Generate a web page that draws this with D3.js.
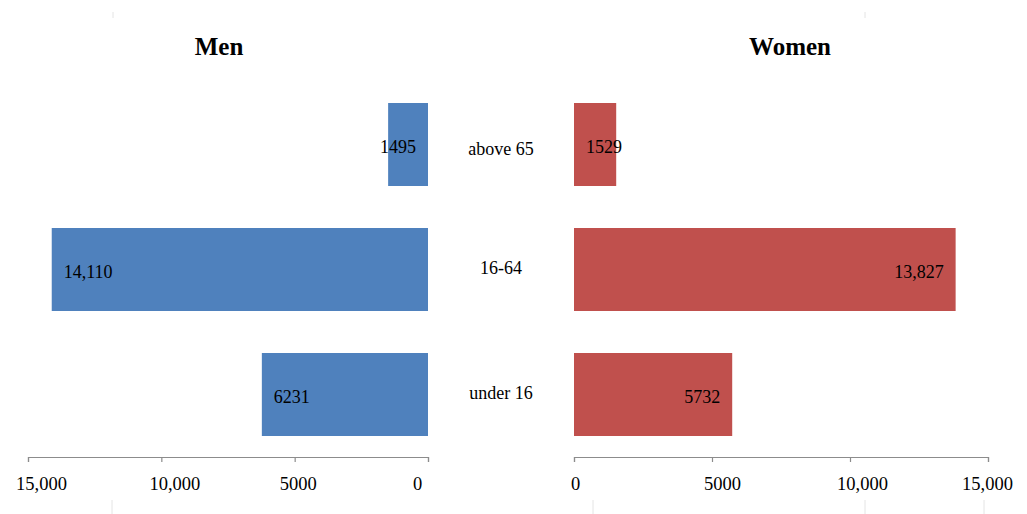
<!DOCTYPE html>
<html>
<head>
<meta charset="utf-8">
<script src="https://cdn.jsdelivr.net/npm/d3@7/dist/d3.min.js"></script>
<style>
  html, body { margin: 0; padding: 0; background: #fff; }
  svg { display: block; }
  text { font-family: "Liberation Serif", "Times New Roman", serif; fill: #000; }
</style>
</head>
<body>
<script>
// Population by age group and sex
const categories = ["above 65", "16-64", "under 16"];
const men = [1495, 14110, 6231];
const women = [1529, 13827, 5732];
const tickValues = [0, 5000, 10000, 15000];
const titles = ["Men", "Women"];

const W = 1027, H = 514;
const svg = d3.select("body").append("svg").attr("width", W).attr("height", H);

const axisY = 457;
const y = d3.scaleBand().domain(categories).range([82, axisY])
  .paddingInner(0.336).paddingOuter(0.168);

const xMen = d3.scaleLinear().domain([15000, 0]).range([28, 428]);
const xWomen = d3.scaleLinear().domain([0, 15000]).range([574, 988]);

const fmt = d => d >= 10000 ? d3.format(",")(d) : String(d);

// horizontal nudges of the tick labels relative to their ticks
const menLabelNudge = new Map([[15000, 13], [10000, 13], [5000, 3], [0, -11]]);
const womenLabelNudge = new Map([[0, 1], [5000, 10], [10000, 12], [15000, -1]]);

// faint marks along the page edges
const edgeMarks = [[113, 12, 18], [865, 12, 18], [112, 500, 514], [593, 500, 514], [865, 500, 514], [984, 500, 514]];
svg.append("g").selectAll("line").data(edgeMarks).join("line")
  .attr("x1", d => d[0]).attr("x2", d => d[0])
  .attr("y1", d => d[1]).attr("y2", d => d[2])
  .attr("stroke", "#e4e4e4").attr("stroke-width", 1);

// titles
svg.append("text").attr("x", 219).attr("y", 55).attr("text-anchor", "middle")
  .style("font-size", "25px").style("font-weight", "bold").text(titles[0]);
svg.append("text").attr("x", 790).attr("y", 55).attr("text-anchor", "middle")
  .style("font-size", "25px").style("font-weight", "bold").text(titles[1]);

// axes
function styleAxis(nudge) {
  return g => {
    g.selectAll("path, line").attr("stroke", "#8c8c8c").attr("stroke-width", 1.2);
    g.selectAll(".tick text").style("font-size", "18.5px").attr("fill", "#000")
      .style("font-family", "'Liberation Serif', 'Times New Roman', serif")
      .attr("dx", d => nudge.get(d) || 0);
  };
}
svg.append("g").attr("transform", `translate(0,${axisY})`)
  .call(d3.axisBottom(xMen).tickValues(tickValues).tickFormat(fmt).tickSize(5).tickSizeOuter(5).tickPadding(15))
  .call(styleAxis(menLabelNudge));
svg.append("g").attr("transform", `translate(0,${axisY})`)
  .call(d3.axisBottom(xWomen).tickValues(tickValues).tickFormat(fmt).tickSize(5).tickSizeOuter(5).tickPadding(15))
  .call(styleAxis(womenLabelNudge));

// bars
const menData = categories.map((c, i) => ({ c, v: men[i] }));
const womenData = categories.map((c, i) => ({ c, v: women[i] }));

svg.append("g").selectAll("rect").data(menData).join("rect")
  .attr("x", d => xMen(d.v)).attr("width", d => xMen(0) - xMen(d.v))
  .attr("y", d => y(d.c)).attr("height", y.bandwidth())
  .attr("fill", "#4F81BD");

svg.append("g").selectAll("rect").data(womenData).join("rect")
  .attr("x", xWomen(0)).attr("width", d => xWomen(d.v) - xWomen(0))
  .attr("y", d => y(d.c)).attr("height", y.bandwidth())
  .attr("fill", "#C0504D");

// value labels: inside the outer end, kept clear of the base
const pad = 12;
svg.append("g").selectAll("text").data(menData).join("text")
  .attr("y", d => y(d.c) + y.bandwidth() / 2).attr("dy", "0.45em")
  .style("font-size", "18px").text(d => fmt(d.v))
  .each(function (d) {
    const w = this.getComputedTextLength();
    let start = xMen(d.v) + pad;
    const end = Math.min(start + w, xMen(0) - pad);
    start = end - w;
    d3.select(this).attr("x", start);
  });

svg.append("g").selectAll("text").data(womenData).join("text")
  .attr("y", d => y(d.c) + y.bandwidth() / 2).attr("dy", "0.45em")
  .style("font-size", "18px").text(d => fmt(d.v))
  .each(function (d) {
    const w = this.getComputedTextLength();
    const start = Math.max(xWomen(0) + pad, xWomen(d.v) - pad - w);
    d3.select(this).attr("x", start);
  });

// category labels between the two panels
svg.append("g").selectAll("text").data(categories).join("text")
  .attr("x", (xMen(0) + xWomen(0)) / 2)
  .attr("y", d => y(d) + y.bandwidth() / 2).attr("dy", d => d === categories[0] ? "0.6em" : "0.25em")
  .attr("text-anchor", "middle").style("font-size", "18px").text(d => d);
</script>
</body>
</html>
